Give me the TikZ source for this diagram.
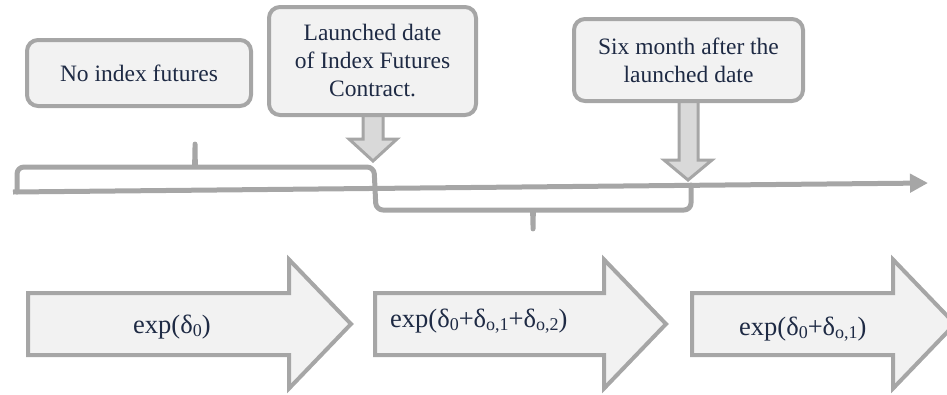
\documentclass[tikz,border=0pt]{standalone}
\usepackage{fontspec}
\setmainfont{Liberation Serif}
\usetikzlibrary{arrows.meta}
\definecolor{linegray}{HTML}{A6A6A6}
\definecolor{boxfill}{HTML}{F2F2F2}
\definecolor{callfill}{HTML}{D9D9D9}
\definecolor{txt}{RGB}{30,42,68}
\newcommand\sbs[1]{\raisebox{-0.15em}{\fontsize{18}{18}\selectfont #1}}
\begin{document}
\begin{tikzpicture}[x=1pt,y=-1pt,
 tbox/.style={draw=linegray, line width=4pt, fill=boxfill, rounded corners=11pt, align=center, text=txt, font=\fontsize{23.5}{28}\selectfont, inner sep=0pt},
 blockarrow/.style={draw=linegray, line width=4pt, fill=boxfill, line join=miter},
 callarrow/.style={draw=linegray, line width=3pt, fill=callfill, line join=miter},
 brace/.style={draw=linegray, line width=5pt, line cap=round, line join=round},
 formula/.style={text=txt, font=\fontsize{26.5}{30}\selectfont, inner sep=0pt, anchor=base west}]
\useasboundingbox (0,0) rectangle (947,394);
\clip (0,0) rectangle (947,394);

% timeline
\coordinate (tl0) at (13,192);
\coordinate (tl1) at (928,183);
\draw[linegray, line width=5pt, -{Triangle[length=18pt,width=18pt]}] (tl0) -- (tl1);

% braces
\draw[brace, rounded corners=7pt] (17,192) -- (17,167) -- (188,167)
  .. controls (194,167) and (195,162) .. (195,140)
  .. controls (195,162) and (196,167) .. (202,167)
  -- (374,167) -- (376,210) -- (526,210)
  .. controls (532,210) and (533,214) .. (533,233)
  .. controls (533,214) and (534,210) .. (540,210)
  -- (691,210) -- (691,185);

% callout arrows
\coordinate (t2) at (373,161);
\coordinate (t3) at (688,180);
\draw[callarrow] (363,110) -- (363,139) -- (349,139) -- (t2) -- (397,139) -- (383,139) -- (383,110) -- cycle;
\draw[callarrow] (679,96) -- (679,160) -- (664,160) -- (t3) -- (712,160) -- (698,160) -- (698,96) -- cycle;

% boxes
\node[tbox, minimum width=224pt, minimum height=66pt] (b1) at (139,73) {No index futures};
\node[tbox, minimum width=207pt, minimum height=108pt] (b2) at (372.5,61) {Launched date\\of Index Futures\\Contract.};
\node[tbox, minimum width=229pt, minimum height=82pt] (b3) at (688.5,60) {Six month after the\\launched date};

% block arrows
\draw[blockarrow] (28,293) -- (289,293) -- (289,259.5) -- (351,324) -- (289,388.5) -- (289,355) -- (28,355) -- cycle;
\draw[blockarrow] (375,293) -- (604,293) -- (604,259.5) -- (666,324) -- (604,388.5) -- (604,355) -- (375,355) -- cycle;
\draw[blockarrow] (692,293) -- (893,293) -- (893,259.5) -- (955,324) -- (893,388.5) -- (893,355) -- (692,355) -- cycle;

\node[formula] (f1) at (133,333) {exp(δ\sbs{0})};
\node[formula] (f2) at (390,327) {exp(δ\sbs{0}+δ\sbs{o,1}+δ\sbs{o,2})};
\node[formula] (f3) at (739,335) {exp(δ\sbs{0}+δ\sbs{o,1})};
\end{tikzpicture}
\end{document}
